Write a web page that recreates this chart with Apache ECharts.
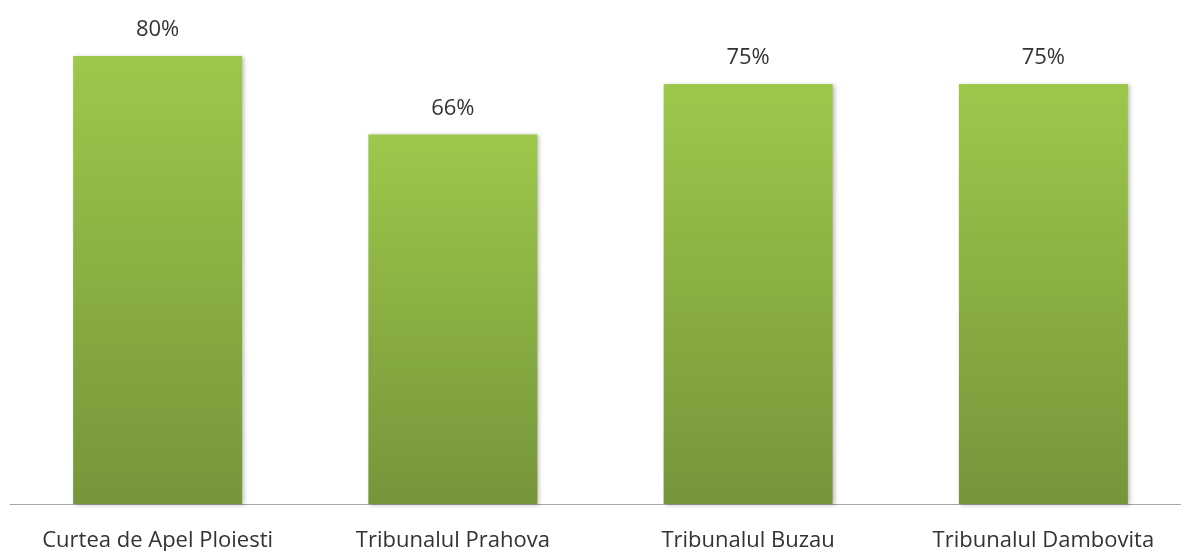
<!DOCTYPE html>
<html>
<head>
<meta charset="utf-8">
<script src="https://cdn.jsdelivr.net/npm/echarts@6/dist/echarts.min.js"></script>
<style>
  html, body { margin: 0; padding: 0; background: #fff; }
  #chart { width: 1181px; height: 551px; }
</style>
</head>
<body>
<div id="chart"></div>
<script>
var categories = ['Curtea de Apel Ploiesti', 'Tribunalul Prahova', 'Tribunalul Buzau', 'Tribunalul Dambovita'];
var values = [80, 66, 75, 75];

var myChart = echarts.init(document.getElementById('chart'), null, { renderer: 'canvas' });

var option = {
    animation: false,
    grid: {
        left: 10,
        top: 0,
        bottom: 47,
        width: 1181,
        outerBoundsMode: 'none',
        containLabel: false
    },
    xAxis: {
        type: 'category',
        data: categories,
        axisLine: { lineStyle: { color: '#a6a6a6', width: 1 } },
        axisTick: { show: false },
        axisLabel: {
            interval: 0,
            color: '#333',
            fontSize: 22,
            fontFamily: 'Open Sans',
            margin: 26
        }
    },
    yAxis: {
        type: 'value',
        min: 0,
        max: 90,
        show: false,
        splitLine: { show: false }
    },
    series: [{
        type: 'bar',
        data: values,
        barWidth: 169,
        itemStyle: {
            color: new echarts.graphic.LinearGradient(0, 0, 0, 1, [
                { offset: 0, color: '#9dc84b' },
                { offset: 1, color: '#76953a' }
            ]),
            shadowColor: 'rgba(0,0,0,0.25)',
            shadowBlur: 4,
            shadowOffsetX: 2,
            shadowOffsetY: 1
        },
        label: {
            show: true,
            position: 'top',
            distance: 15,
            color: '#333',
            fontSize: 22,
            fontFamily: 'Open Sans',
            formatter: '{c}%'
        }
    }]
};
myChart.setOption(option);
</script>
</body>
</html>
